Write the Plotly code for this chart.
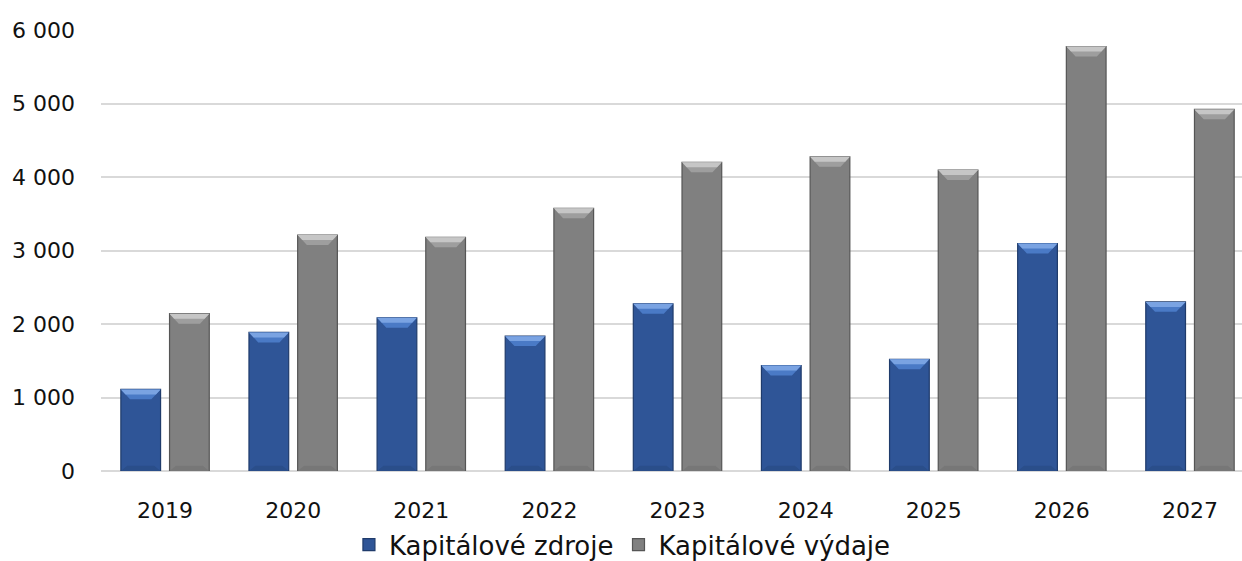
import plotly.graph_objects as go

# Capital sources vs. capital expenditures by year
years = ["2019", "2020", "2021", "2022", "2023", "2024", "2025", "2026", "2027"]
zdroje = [1110, 1885, 2085, 1835, 2275, 1435, 1520, 3095, 2300]
vydaje = [2140, 3210, 3180, 3575, 4200, 4275, 4095, 5775, 4920]
y_ticks = [0, 1000, 2000, 3000, 4000, 5000, 6000]
y_tick_text = ["0", "1 000", "2 000", "3 000", "4 000", "5 000", "6 000"]

FONT = "DejaVu Sans"
BAR_W = 0.31
OFFS = {"z": -0.345, "v": 0.035}
BEVEL_H = 135      # bevel height in value units
BEVEL_IN = 0.072   # bevel inset in category units

xs = list(range(len(years)))


def bevel_polys(values, offset, h, inset):
    """Top-bevel trapezoids, one per bar, joined with None breaks."""
    px, py = [], []
    for i, v in zip(xs, values):
        x0 = i + offset
        x1 = x0 + BAR_W
        px += [x0, x1, x1 - inset, x0 + inset, x0, None]
        py += [v, v, v - h, v - h, v, None]
    return px, py


def bottom_polys(values, offset, h, inset):
    px, py = [], []
    for i, v in zip(xs, values):
        x0 = i + offset
        x1 = x0 + BAR_W
        px += [x0, x1, x1 - inset, x0 + inset, x0, None]
        py += [0, 0, h, h, 0, None]
    return px, py


fig = go.Figure()

series = [
    ("Kapitálové zdroje", zdroje, OFFS["z"], "#2F5597", "#1F3B6B", "#4A7AC6", "#7AA3E2", "#2A4E8A"),
    ("Kapitálové výdaje", vydaje, OFFS["v"], "#808080", "#555555", "#9E9E9E", "#C6C6C6", "#777777"),
]

for name, vals, off, col, edge, bev, bev_hi, bot in series:
    fig.add_trace(go.Bar(
        x=xs, y=vals, name=name, width=BAR_W, offset=off,
        marker=dict(color=col, line=dict(color=edge, width=1.2)),
        hoverinfo="y",
    ))
    # faint lower bevel
    bx, by = bottom_polys(vals, off, 70, 0.05)
    fig.add_trace(go.Scatter(
        x=bx, y=by, fill="toself", fillcolor=bot, mode="lines",
        line=dict(width=0, color=bot), showlegend=False, hoverinfo="skip",
    ))
    # top bevel, two tones for a soft gradient
    tx, ty = bevel_polys(vals, off, BEVEL_H, BEVEL_IN)
    fig.add_trace(go.Scatter(
        x=tx, y=ty, fill="toself", fillcolor=bev, mode="lines",
        line=dict(width=0, color=bev), showlegend=False, hoverinfo="skip",
    ))
    hx, hy = bevel_polys(vals, off, BEVEL_H * 0.5, BEVEL_IN * 0.5)
    fig.add_trace(go.Scatter(
        x=hx, y=hy, fill="toself", fillcolor=bev_hi, mode="lines",
        line=dict(width=0, color=bev_hi), showlegend=False, hoverinfo="skip",
    ))

fig.update_layout(
    width=1242, height=561,
    margin=dict(l=101, r=0, t=30, b=90, autoexpand=False),
    paper_bgcolor="white", plot_bgcolor="white",
    font=dict(family=FONT, size=22, color="#111111"),
    showlegend=True,
    legend=dict(
        orientation="h", x=0.457, xanchor="center", y=-0.167, yanchor="middle",
        font=dict(family=FONT, size=26, color="#111111"),
        traceorder="normal", itemwidth=30,
    ),
)
fig.update_xaxes(
    range=[-0.5, 8.406], tickmode="array", tickvals=xs, ticktext=years,
    showgrid=False, zeroline=False, showline=False, ticks="",
    tickfont=dict(size=22), ticklabelstandoff=24,
)
fig.update_yaxes(
    range=[0, 6000], tickmode="array", tickvals=y_ticks, ticktext=y_tick_text,
    showgrid=True, gridcolor="#D9D9D9", gridwidth=1.5,
    zeroline=True, zerolinecolor="#D9D9D9", zerolinewidth=1.5,
    showline=False, ticks="", tickfont=dict(size=22), ticklabelstandoff=25,
)

fig.write_html("out.html")
